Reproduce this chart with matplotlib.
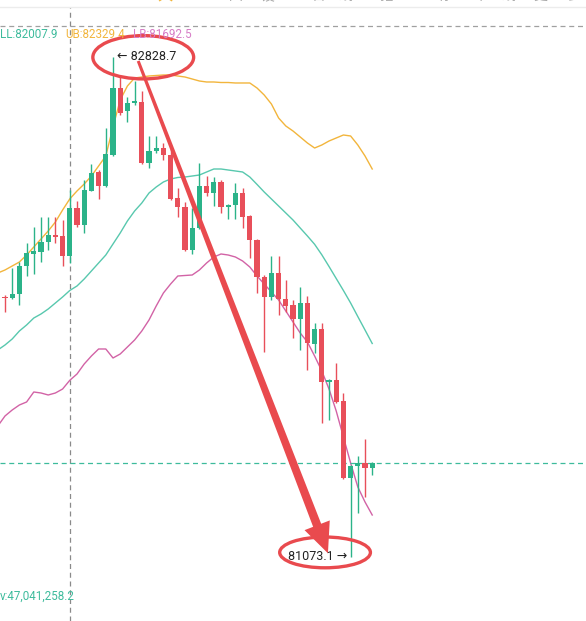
import matplotlib.pyplot as plt
from matplotlib.patches import Ellipse, Polygon
from matplotlib.transforms import IdentityTransform
import numpy as np

# candle index -1 .. 51 (first one is cut by the left edge)
opens = [81956.9, 81986.7, 81980.4, 81994.5, 82093.8, 82136.0, 82144.0, 82177.0, 82202.7, 82199.2,
         82128.9, 82298.5, 82237.8, 82358.2, 82422.8, 82374.7, 82483.6, 82719.9, 82639.1, 82665.1,
         82670.7, 82454.4, 82497.6, 82509.2, 82483.6, 82331.5, 82299.9, 82150.0, 82226.2, 82374.7,
         82349.1, 82389.8, 82299.9, 82308.0, 82349.1, 82269.4, 82185.1, 82056.2, 81986.0, 82068.2,
         81976.9, 81956.9, 81906.7, 81962.8, 81819.9, 81871.6, 81685.5, 81693.5, 81619.8, 81348.4,
         81391.6, 81403.2, 81383.5]
highs = [82009.6, 81992.0, 82086.8, 82108.9, 82175.6, 82231.8, 82264.8, 82264.8, 82265.9, 82255.3,
         82360.7, 82323.1, 82395.8, 82450.9, 82430.9, 82577.3, 82828.7, 82758.5, 82688.3, 82744.4,
         82709.3, 82550.3, 82550.3, 82524.6, 82508.1, 82366.6, 82319.6, 82296.4, 82454.4, 82410.9,
         82407.4, 82395.8, 82311.5, 82384.2, 82366.6, 82272.9, 82188.6, 82062.2, 82128.9, 82128.9,
         82044.7, 81974.4, 82021.1, 81988.5, 81894.7, 81894.7, 81697.1, 81752.2, 81649.0, 81395.1,
         81426.7, 81485.3, 81405.6]
lows = [81946.4, 81932.3, 81977.9, 81956.9, 82058.7, 82065.7, 82108.9, 82150.0, 82174.6, 82093.8,
        82103.3, 82229.7, 82210.7, 82357.2, 82328.0, 82372.3, 82480.1, 82624.0, 82600.5, 82659.1,
        82452.0, 82437.9, 82490.6, 82466.0, 82325.6, 82266.9, 82147.5, 82136.0, 82223.7, 82339.6,
        82304.5, 82278.9, 82257.8, 82257.8, 82226.2, 82120.9, 82000.1, 81792.9, 81974.4, 81921.8,
        81932.3, 81840.0, 81798.9, 81728.7, 81787.3, 81541.5, 81553.1, 81614.5, 81345.9, 81073.1,
        81225.5, 81283.8, 81360.0]
closes = [81985.0, 81979.7, 81995.5, 82093.8, 82138.4, 82146.5, 82177.0, 82201.6, 82194.6, 82128.9,
          82298.5, 82237.8, 82360.7, 82419.3, 82374.7, 82487.1, 82719.9, 82630.0, 82665.1, 82673.2,
          82454.4, 82497.6, 82509.2, 82483.6, 82329.1, 82299.9, 82150.0, 82226.2, 82374.7, 82349.1,
          82389.8, 82299.9, 82308.0, 82349.1, 82266.9, 82185.1, 82056.2, 81986.0, 82068.2, 81976.9,
          81953.4, 81906.7, 81962.8, 81822.4, 81871.6, 81685.5, 81693.5, 81617.4, 81348.4, 81391.6,
          81403.2, 81383.5, 81401.1]

# bollinger style bands
upper = [82069.2, 82079.8, 82093.8, 82107.9, 82132.4, 82160.5, 82188.6, 82216.7, 82248.3, 82290.4,
         82329.4, 82357.2, 82381.7, 82409.8, 82444.9, 82480.1, 82581.9, 82676.7, 82725.8, 82753.9,
         82757.4, 82760.9, 82762.7, 82764.5, 82764.5, 82760.9, 82757.4, 82750.4, 82743.4, 82739.9,
         82739.9, 82738.1, 82738.1, 82736.4, 82736.4, 82736.4, 82718.8, 82694.2, 82662.6, 82613.5,
         82585.4, 82567.8, 82546.8, 82525.7, 82508.1, 82518.7, 82532.7, 82543.3, 82553.8, 82550.3,
         82518.7, 82480.1, 82434.4]
middle = [81798.9, 81816.4, 81837.5, 81865.6, 81886.7, 81911.2, 81925.3, 81942.8, 81963.9, 81985.0,
          82007.9, 82023.6, 82048.2, 82076.3, 82104.4, 82132.4, 82171.1, 82209.7, 82251.8, 82286.9,
          82315.0, 82350.1, 82371.2, 82388.8, 82399.3, 82404.6, 82406.3, 82409.8, 82413.3, 82423.9,
          82434.4, 82434.4, 82430.9, 82427.4, 82423.9, 82406.3, 82380.3, 82353.6, 82329.1, 82304.5,
          82279.9, 82255.3, 82227.2, 82199.2, 82170.0, 82133.1, 82092.1, 82049.9, 82007.8, 81963.9,
          81916.2, 81869.1, 81821.7]
lower = [81532.0, 81567.1, 81588.2, 81605.8, 81616.3, 81651.4, 81647.9, 81640.9, 81647.9, 81661.9,
         81692.5, 81714.6, 81749.7, 81777.8, 81802.4, 81802.4, 81770.8, 81784.8, 81809.4, 81834.0,
         81865.6, 81904.2, 81953.4, 81999.0, 82030.6, 82058.7, 82060.5, 82062.2, 82079.8, 82104.4,
         82125.4, 82136.0, 82132.4, 82125.4, 82111.4, 82090.3, 82058.7, 82030.6, 82002.5, 81974.4,
         81935.8, 81897.2, 81858.6, 81827.0, 81777.8, 81725.1, 81661.9, 81584.7, 81493.4, 81402.1,
         81317.8, 81265.2, 81219.5]

# volume (only the bars that reach into view + the crosshair bar)
vol_idx = [1, 9, 14, 15]
vol_vals = [122.8e6, 47041258.2, 110.5e6, 111.0e6]
cross_i = 9

GREEN = '#2bb389'
RED = '#e84f5a'
TEAL = '#58c8ae'
ORANGE = '#f2b53c'
PINK = '#d263a6'
ARROW_RED = '#e94a4e'

idx = np.arange(-1, len(opens) - 1)
o = np.array(opens)
h = np.array(highs)
l = np.array(lows)
c = np.array(closes)
cols = [GREEN if cc >= oo else RED for oo, cc in zip(o, c)]

plt.rcParams['font.family'] = ['Roboto', 'DejaVu Sans']

fig = plt.figure(figsize=(5.86, 6.21), dpi=100)
fig.patch.set_facecolor('white')
ax = fig.add_axes([0, 0, 1, 1])
ax.set_xlim(-0.694, 80.69)
ax.set_ylim(80847.3, 83027.8)
ax.axis('off')

# crosshair / frame lines
ax.plot([0, 1], [1 - 7 / 621] * 2, transform=ax.transAxes, color='#ececec', lw=1)
ax.plot([0, 1], [1 - 26 / 621] * 2, transform=ax.transAxes, color='#a0a0a0',
        lw=0.9, ls=(0, (4, 3)))
ax.axvline(cross_i, ymin=0, ymax=1 - 8 / 621, color='#8a8a8a', lw=0.9, ls=(0, (4, 3)))

# bands
ax.plot(idx, upper, color=ORANGE, lw=1.0, zorder=2)
ax.plot(idx, middle, color=TEAL, lw=1.0, zorder=2)
ax.plot(idx, lower, color=PINK, lw=1.0, zorder=2)

# candles
ax.vlines(idx, l, h, colors=cols, lw=1.0, zorder=3)
body_h = np.maximum(np.abs(c - o), 6)
ax.bar(idx, body_h, bottom=np.minimum(o, c), width=0.7, color=cols, zorder=4)

# last price line
ax.axhline(c[-1], color='#3dbb9c', lw=0.9, ls=(0, (4, 3)), zorder=2)

# volume pane (mostly below the visible area)
vax = fig.add_axes([0, -115 / 621, 1, 121 / 621])
vax.set_xlim(ax.get_xlim())
vax.set_ylim(0, 130e6)
vax.axis('off')
vax.patch.set_alpha(0)
vax.bar(vol_idx, vol_vals, width=0.7, facecolor='white', edgecolor='#5cc9ae', lw=1.0)

# legend values at crosshair
ci = cross_i + 1
fs_leg = 8.4
fig.text(0, 1 - 35 / 621, f'LL:{middle[ci]:.1f}', color='#3dbb9c', fontsize=fs_leg, va='center')
fig.text(65 / 586, 1 - 35 / 621, f'UB:{upper[ci]:.1f}', color=ORANGE, fontsize=fs_leg, va='center')
fig.text(133 / 586, 1 - 35 / 621, f'LB:{lower[ci]:.1f}', color='#d77cc6', fontsize=fs_leg, va='center')
fig.text(0, 1 - 596 / 621, f'v:{vol_vals[1]:,.1f}', color='#3dbb9c', fontsize=fs_leg, va='center')

# cut off toolbar at the very top
for xp, ch in zip([126, 165, 200], ['全', '大', '筹']):
    fig.text(xp / 586, 1 - 3.5 / 621, ch, color='#f0b43a', fontsize=11, ha='center',
             va='bottom', family=['Noto Sans CJK SC'])
for xp, ch in zip([236, 267, 318, 345, 386, 445, 476, 508, 540, 575],
                  ['回', '设', '日', '线', '指', '标', '画', '线', '更', '多']):
    fig.text(xp / 586, 1 - 3 / 621, ch, color='#a8a8a8', fontsize=10, ha='center',
             va='bottom', family=['Noto Sans CJK SC'])

# high / low markers
hi_k = int(np.argmax(h))
lo_k = int(np.argmin(l))
hi_i, hi_v = idx[hi_k], h[hi_k]
lo_i, lo_v = idx[lo_k], l[lo_k]
ax.text(hi_i + 0.55, hi_v, f'← {hi_v:.1f}', ha='left', va='center', fontsize=9,
        color='#222222', zorder=6, family=['Roboto', 'DejaVu Sans'])
ax.text(lo_i - 0.45, lo_v, f'{lo_v:.1f} →', ha='right', va='center', fontsize=9,
        color='#222222', zorder=6, family=['Roboto', 'DejaVu Sans'])

ax.add_patch(Ellipse((hi_i + 4.2, hi_v - 2), 14.0, 152, fill=False, ec=ARROW_RED,
                     lw=2.4, zorder=7))
ax.add_patch(Ellipse((lo_i - 3.55, lo_v + 15), 12.6, 108, fill=False, ec=ARROW_RED,
                     lw=2.4, zorder=7))

# hand drawn style arrow: thin at the start, wider toward a big head
s = ax.transData.transform((hi_i + 3.5, hi_v - 15))
e = ax.transData.transform((lo_i - 3.15, lo_v + 12))
u = (e - s) / np.hypot(*(e - s))
n = np.array([-u[1], u[0]])
head_len, head_half = 30, 13.5
b = e - u * head_len
pts = [s + n * 1.5, b + n * 4.3, b + n * head_half, e,
       b - n * head_half, b - n * 4.3, s - n * 1.5]
ax.add_patch(Polygon(pts, closed=True, transform=IdentityTransform(),
                     facecolor=ARROW_RED, edgecolor='none', zorder=8))

fig.savefig('out.png', dpi=100, facecolor='white')
